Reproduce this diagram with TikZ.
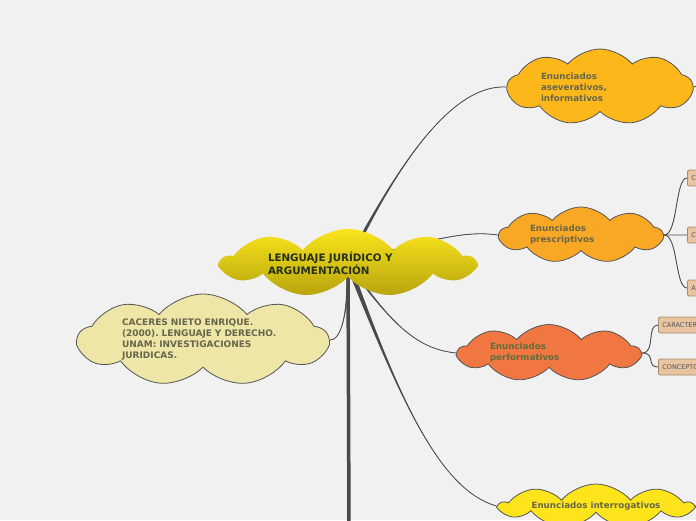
\documentclass[tikz,border=0pt]{standalone}
\usepackage{fontspec}
\setmainfont{DejaVu Sans}
\frenchspacing
\usetikzlibrary{shapes.symbols,calc,backgrounds}
\definecolor{paper}{HTML}{F1F1F1}
\definecolor{wire}{HTML}{4A4A4A}
\definecolor{edge}{HTML}{555555}
\definecolor{rootA}{HTML}{FAE51C}
\definecolor{rootB}{HTML}{B8A40E}
\definecolor{rootink}{HTML}{25301C}
\definecolor{ink}{HTML}{66664A}
\definecolor{perfink}{HTML}{5E6E3E}
\definecolor{asevbg}{HTML}{FCB71B}
\definecolor{prescbg}{HTML}{F9A825}
\definecolor{perfbg}{HTML}{F07741}
\definecolor{interbg}{HTML}{FDE41B}
\definecolor{citebg}{HTML}{EDE6A7}
\definecolor{leafbg}{HTML}{E8C4A1}
\definecolor{leafedge}{HTML}{A88B6C}
\definecolor{leafink}{HTML}{555555}
\tikzset{
  idea/.style={
    cloud,
    cloud puffs=9,
    cloud puff arc=100,
    cloud ignores aspect,
    draw=edge,
    line width=0.8pt,
    inner sep=0pt,
    align=left,
    font=\fontsize{8.7}{11}\selectfont\bfseries,
    text=ink
  },
  rootidea/.style={
    idea,
    draw=none,
    top color=rootA,
    bottom color=rootB,
    font=\fontsize{10.3}{13}\selectfont\bfseries,
    text=rootink
  },
  leaf/.style={
    rectangle,
    rounded corners=2pt,
    draw=leafedge,
    fill=leafbg,
    line width=0.8pt,
    minimum height=16pt,
    inner xsep=4pt,
    anchor=west,
    font=\fontsize{6.5}{8}\selectfont,
    text=leafink
  },
  twig/.style={draw=wire, line width=0.9pt}
}
% tapered branch: start, control 1, control 2, end, half width at start
\newcommand{\branch}[5]{%
  \fill[wire] ($#1+#5$) .. controls #2 and #3 .. #4 .. controls #3 and #2 .. ($#1-#5$) -- cycle;
  \draw[wire,line width=0.8pt] #1 .. controls #2 and #3 .. #4;}

\begin{document}
\begin{tikzpicture}[x=1pt,y=-1pt]
  \useasboundingbox (0,0) rectangle (696,520);
  \clip (0,0) rectangle (696,520);

  \node[rootidea, minimum width=253pt, minimum height=68pt, text width=160pt] (root) at (348,263) {LENGUAJE JURÍDICO Y\\ARGUMENTACIÓN};

  \node[idea, fill=asevbg, minimum width=185pt, minimum height=76pt, text width=118pt] (asev) at (600,87) {Enunciados\\aseverativos,\\informativos};
  \node[idea, fill=prescbg, minimum width=163pt, minimum height=56pt, text width=102pt] (presc) at (581,235) {Enunciados\\prescriptivos};
  \node[idea, fill=perfbg, text=perfink, minimum width=182pt, minimum height=57pt, text width=118pt] (perf) at (549,353) {Enunciados\\performativos};
  \node[idea, fill=interbg, minimum width=192pt, minimum height=44pt] (inter) at (596,506) {Enunciados interrogativos};
  \node[idea, fill=citebg, minimum width=250pt, minimum height=92pt, text width=162pt, font=\fontsize{9}{11}\selectfont\bfseries] (cite) at (203,340) {CACERES NIETO ENRIQUE.\\(2000). LENGUAJE Y DERECHO.\\UNAM: INVESTIGACIONES\\JURIDICAS.};

  \node[leaf] (pa) at (687,178) {C};
  \node[leaf] (pb) at (687,235) {C};
  \node[leaf] (pc) at (687,288) {A};
  \node[leaf] (fa) at (658,325) {CARACTERÍSTICAS};
  \node[leaf] (fb) at (658,367) {CONCEPTO};

  \coordinate (asevout) at (705,84);
  \coordinate (interout) at (705,498);
  \coordinate (downout) at (349,530);

  \begin{scope}[on background layer]
    \clip (0,0) rectangle (696,520);
    \fill[paper] (0,0) rectangle (696,520);

    \branch{(root.center)}{(395,170)}{(450,84)}{(asev.west)}{(2.5,0)}
    \branch{(root.center)}{(440,236)}{(470,231)}{(presc.west)}{(0,1.5)}
    \branch{(root.center)}{(395,330)}{(420,349)}{(perf.west)}{(1.8,0)}
    \branch{(root.center)}{(400,400)}{(440,490)}{(inter.west)}{(2.8,0)}
    \branch{(root.center)}{(348,320)}{(340,340)}{(cite.east)}{(1.8,0)}
    \draw[wire, line width=3.5pt] (root.center) -- (downout);

    \draw[twig] (presc.east) .. controls +(14,0) and +(-12,0) .. (pa.west);
    \draw[twig] (presc.east) .. controls +(14,0) and +(-12,0) .. (pb.west);
    \draw[twig] (presc.east) .. controls +(14,0) and +(-12,0) .. (pc.west);
    \draw[twig] (perf.east) .. controls +(14,0) and +(-12,0) .. (fa.west);
    \draw[twig] (perf.east) .. controls +(14,0) and +(-12,0) .. (fb.west);
    \draw[twig] (asev.east) -- (asevout);
    \draw[twig] (inter.east) -- (interout);
  \end{scope}
\end{tikzpicture}
\end{document}
